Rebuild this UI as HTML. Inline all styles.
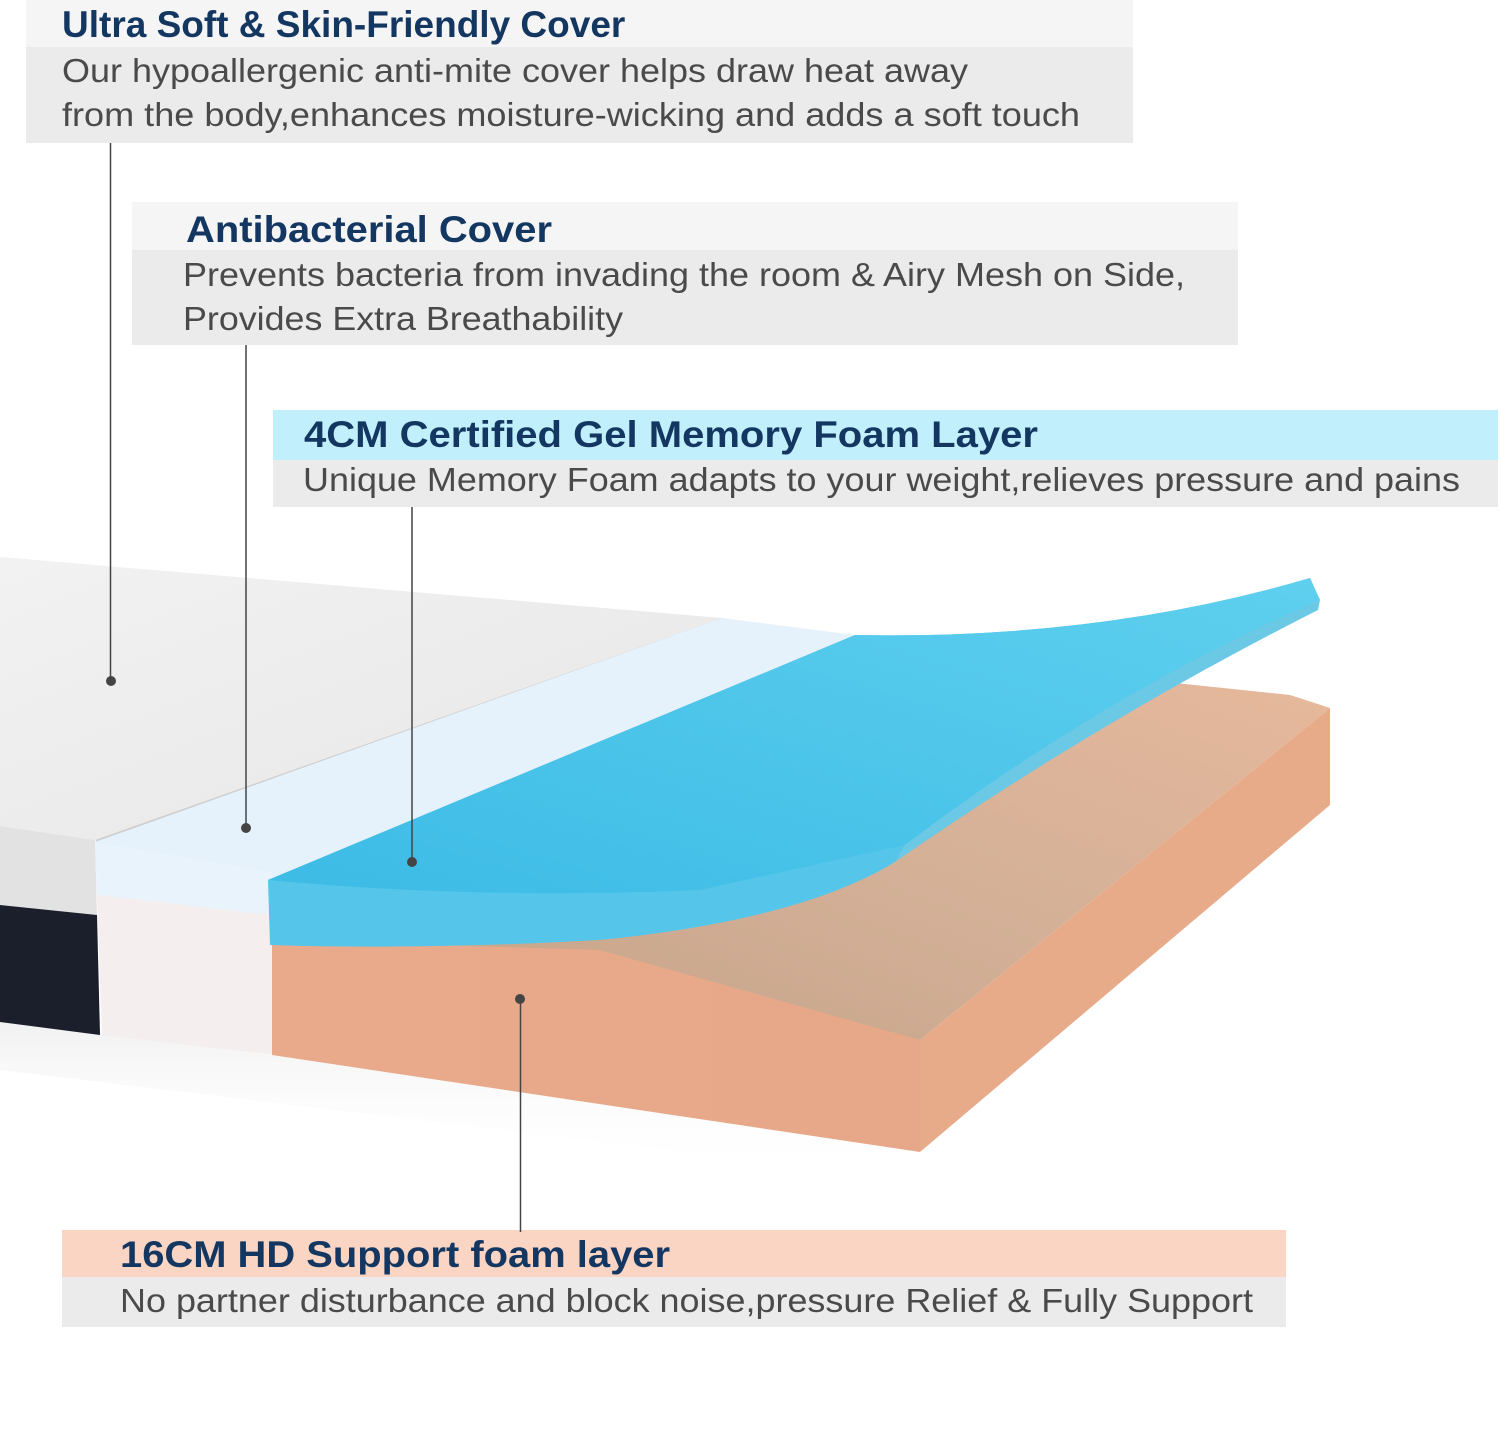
<!DOCTYPE html>
<html><head><meta charset="utf-8"><style>
html,body{margin:0;padding:0;background:#fff;}
svg{display:block;}
.t{font-family:"Liberation Sans",sans-serif;font-weight:bold;font-size:37px;fill:#143762;}
.d{font-family:"Liberation Sans",sans-serif;font-size:33px;fill:#4a4a4a;}
</style></head><body>
<svg width="1500" height="1431" viewBox="0 0 1500 1431" xmlns="http://www.w3.org/2000/svg">
<defs>
<linearGradient id="blueTop" x1="0" y1="1" x2="1" y2="0"><stop offset="0" stop-color="#3cbbe6"/><stop offset="1" stop-color="#5fd0ee"/></linearGradient>
<linearGradient id="orFront" x1="0" y1="0" x2="1" y2="0"><stop offset="0" stop-color="#e9aa8b"/><stop offset="1" stop-color="#e6a888"/></linearGradient>
<linearGradient id="orTop" x1="0" y1="1" x2="1" y2="0"><stop offset="0" stop-color="#c2a085"/><stop offset="0.5" stop-color="#d3b097"/><stop offset="1" stop-color="#e8b99c"/></linearGradient>
<linearGradient id="cover" x1="0" y1="0" x2="1" y2="1"><stop offset="0" stop-color="#f2f2f2"/><stop offset="1" stop-color="#e6e6e6"/></linearGradient>
<linearGradient id="shadow" x1="0" y1="0" x2="0" y2="1"><stop offset="0" stop-color="#f1f1f1"/><stop offset="1" stop-color="#ffffff" stop-opacity="0"/></linearGradient>
</defs>
<rect width="1500" height="1431" fill="#fff"/>
<polygon points="0,1022 272,1055 920,1152 920,1180 0,1070" fill="url(#shadow)"/>
<polygon points="0,557 722,618 95,840 0,826" fill="url(#cover)"/>
<polygon points="722,618 730,622 100,845 95,840" fill="#cfcfcf"/>
<polygon points="0,826 95,840 97,915 0,905" fill="#e2e2e2"/>
<polygon points="0,905 97,915 100,1035 0,1022" fill="#1a1f2b"/>
<polygon points="722,618 855,635 272,880 95,842" fill="#e6f2fb"/>
<polygon points="95,842 272,872 274,1055 102,1035" fill="#f5eeee"/>
<polygon points="95,842 272,872 272,915 97,895" fill="#e9f3fb"/>
<polygon points="272,915 920,1040 1330,708 1290,695 860,650" fill="url(#orTop)"/>
<polygon points="272,940 600,950 920,1040 920,1152 272,1055" fill="url(#orFront)"/>
<polygon points="920,1040 920,1152 1330,805 1330,708" fill="#e8ab8a"/>
<path d="M268,880 L855,635 Q1100,640 1310,578 L1320,600 Q1100,700 905,845 L895,862 Q800,920 600,940 Q420,950 270,945 Z" fill="#55c6ea"/>
<path d="M268,880 L855,635 Q1100,640 1310,578 L1320,600 Q1110,690 905,845 L700,890 Q480,900 268,880 Z" fill="url(#blueTop)"/>
<path d="M905,845 Q1110,690 1320,600 L1318,610 Q1100,720 895,862 Z" fill="#6bc9e6"/>
<rect x="26" y="0" width="1107" height="47" fill="#f5f5f5"/>
<rect x="26" y="47" width="1107" height="96" fill="#ebebeb"/>
<text class="t" x="62" y="37">Ultra Soft &amp; Skin-Friendly Cover</text>
<text class="d" x="62" y="82" textLength="906" lengthAdjust="spacingAndGlyphs">Our hypoallergenic anti-mite cover helps draw heat away</text>
<text class="d" x="62" y="126" textLength="1018" lengthAdjust="spacingAndGlyphs">from the body,enhances moisture-wicking and adds a soft touch</text>
<rect x="132" y="202" width="1106" height="48" fill="#f5f5f5"/>
<rect x="132" y="250" width="1106" height="95" fill="#ebebeb"/>
<text class="t" x="186" y="242" textLength="366" lengthAdjust="spacingAndGlyphs">Antibacterial Cover</text>
<text class="d" x="183" y="286" textLength="1002" lengthAdjust="spacingAndGlyphs">Prevents bacteria from invading the room &amp; Airy Mesh on Side,</text>
<text class="d" x="183" y="330" textLength="440" lengthAdjust="spacingAndGlyphs">Provides Extra Breathability</text>
<rect x="273" y="410" width="1225" height="50" fill="#c1effb"/>
<rect x="273" y="460" width="1225" height="47" fill="#ebebeb"/>
<text class="t" x="304" y="447" textLength="734" lengthAdjust="spacingAndGlyphs">4CM Certified Gel Memory Foam Layer</text>
<text class="d" x="303" y="491" textLength="1157" lengthAdjust="spacingAndGlyphs">Unique Memory Foam adapts to your weight,relieves pressure and pains</text>
<rect x="62" y="1230" width="1224" height="47" fill="#fad5c4"/>
<rect x="62" y="1277" width="1224" height="50" fill="#ebebeb"/>
<text class="t" x="120" y="1267" textLength="550" lengthAdjust="spacingAndGlyphs">16CM HD Support foam layer</text>
<text class="d" x="120" y="1312" textLength="1133" lengthAdjust="spacingAndGlyphs">No partner disturbance and block noise,pressure Relief &amp; Fully Support</text>
<g stroke="#444" stroke-width="1.5">
<line x1="110.5" y1="143" x2="110.5" y2="680"/>
<line x1="246" y1="345" x2="246" y2="827"/>
<line x1="412" y1="507" x2="412" y2="862"/>
<line x1="520.5" y1="999" x2="520.5" y2="1232"/>
</g>
<g fill="#444">
<circle cx="111" cy="681" r="5"/>
<circle cx="246" cy="828" r="5"/>
<circle cx="412" cy="862" r="5"/>
<circle cx="520" cy="999" r="5"/>
</g>
</svg>
</body></html>
